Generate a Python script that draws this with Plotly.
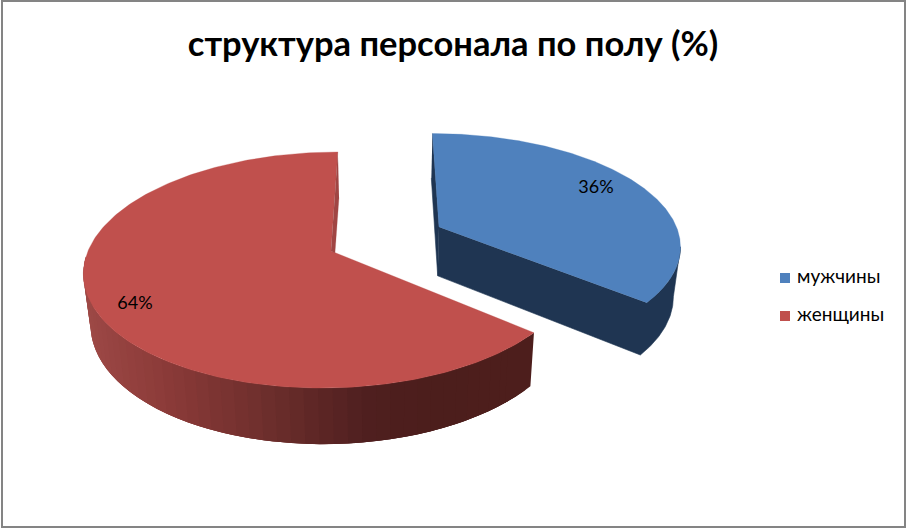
import numpy as np
import plotly.graph_objects as go

categories = ["мужчины", "женщины"]
values = [36, 64]
title_text = "структура персонала по полу (%)"

W, H = 906, 528
FONT = "Lato, 'Noto Sans', sans-serif"
TOP = {"мужчины": "#4f81bd", "женщины": "#c0504d"}
# projected-circle parameters of each slice, in layout pixels
GEOM = {
    "мужчины": dict(ax=439, ay=227, a=237.5, b=107.5, k=0.15, sk=7.5),
    "женщины": dict(ax=331, ay=251, a=243, b=115, k=0.161, sk=-8),
}
LABEL_POS = {"мужчины": (596, 188), "женщины": (135, 304)}
LEGEND_POS = {"мужчины": (785, 278), "женщины": (785, 316)}
NAVY = "#1f3552"
RED_X = [82, 200, 300, 400, 460, 540]
RED_R = [160, 138, 110, 80, 76, 78]
RED_G = [75, 58, 47, 32, 30, 30]
RED_B = [72, 56, 45, 32, 28, 28]
RED_CUT = "#a04543"


def rim(g, theta):
    u, v = np.sin(theta), -np.cos(theta)
    d = 1 - g["k"] * v
    return g["ax"] + (g["a"] * u + g["sk"] * v) / d, g["ay"] + g["b"] * v / d


def lower(x, y):
    return 385 + (np.asarray(x) - 385) * 0.976, np.asarray(y) + 50 + (np.asarray(y) - 253) * 0.045


def poly(fig, xs, ys, color, width=0.6):
    fig.add_trace(go.Scatter(x=list(xs), y=list(ys), mode="lines", fill="toself", fillcolor=color,
                             line=dict(color=color, width=width), hoverinfo="skip", showlegend=False))


fig = go.Figure()
fractions = np.cumsum([0] + values) / sum(values)
for i, name in enumerate(categories):
    g = GEOM[name]
    th = 2 * np.pi * np.linspace(fractions[i], fractions[i + 1], 240)
    rx, ry = rim(g, th)
    bx, by = lower(rx, ry)
    cx, cy = lower(g["ax"], g["ay"])
    if name == "мужчины":
        # far cut face, then front cut face and outer wall as one shape
        poly(fig, [rx[0], g["ax"], cx, bx[0]], [ry[0], g["ay"], cy, by[0]], NAVY)
        j0 = int(np.argmax(rx))
        poly(fig,
             np.r_[g["ax"], rx[j0:][::-1], bx[j0:], cx],
             np.r_[g["ay"], ry[j0:][::-1], by[j0:], cy], NAVY)
    else:
        # wall painted in overlapping bands so no seams show
        idx = np.where(ry > 255)[0]
        starts = list(idx[::-1][::3])
        if starts[-1] != idx[0]:
            starts.append(idx[0])
        for j in starts:
            k = min(j + 9, idx[-1])
            mx = rx[j]
            col = "rgb(%d,%d,%d)" % (np.interp(mx, RED_X, RED_R), np.interp(mx, RED_X, RED_G),
                                     np.interp(mx, RED_X, RED_B))
            seg = np.arange(j, k + 1)
            poly(fig, np.r_[rx[seg], bx[seg][::-1]], np.r_[ry[seg], by[seg][::-1]], col, 0)
    poly(fig, np.r_[g["ax"], rx], np.r_[g["ay"], ry], TOP[name], 0.3)
    if name == "женщины":
        mx0, my0 = lower(rx[-1], ry[-1])
        poly(fig, [rx[-1], g["ax"], g["ax"] + 4, mx0], [ry[-1], g["ay"], g["ay"] + 2, my0], RED_CUT, 0.2)

for i, name in enumerate(categories):
    px, py = LABEL_POS[name]
    fig.add_trace(go.Scatter(x=[px], y=[py], mode="text", text=[f"{values[i]}%"], textposition="middle center",
                             textfont=dict(family=FONT, size=18, color="#000000"), hoverinfo="skip", showlegend=False))
    lx, ly = LEGEND_POS[name]
    fig.add_trace(go.Scatter(x=[lx], y=[ly], mode="markers+text", name=name, text=[" " + name],
                             textposition="middle right", showlegend=False, hoverinfo="name",
                             textfont=dict(family=FONT, size=19, color="#000000"),
                             marker=dict(symbol="square", size=10, color=TOP[name])))

fig.update_layout(
    width=W, height=H, autosize=False,
    margin=dict(l=0, r=0, t=0, b=0),
    paper_bgcolor="#ffffff", plot_bgcolor="#ffffff",
    xaxis=dict(range=[0, W], visible=False, fixedrange=True),
    yaxis=dict(range=[H, 0], visible=False, fixedrange=True),
    title=dict(text=title_text, x=0.5, xanchor="center", y=0.917, yanchor="middle",
               font=dict(family=FONT, size=34.5, color="#000000", weight="bold")),
    shapes=[dict(type="rect", xref="x", yref="y", x0=2, y0=1, x1=905, y1=527,
                 line=dict(color="#848484", width=2))],
)
fig.write_html("out.html", config={"displayModeBar": False},
               post_script="document.body.style.margin='0';document.documentElement.style.overflow='hidden';")
